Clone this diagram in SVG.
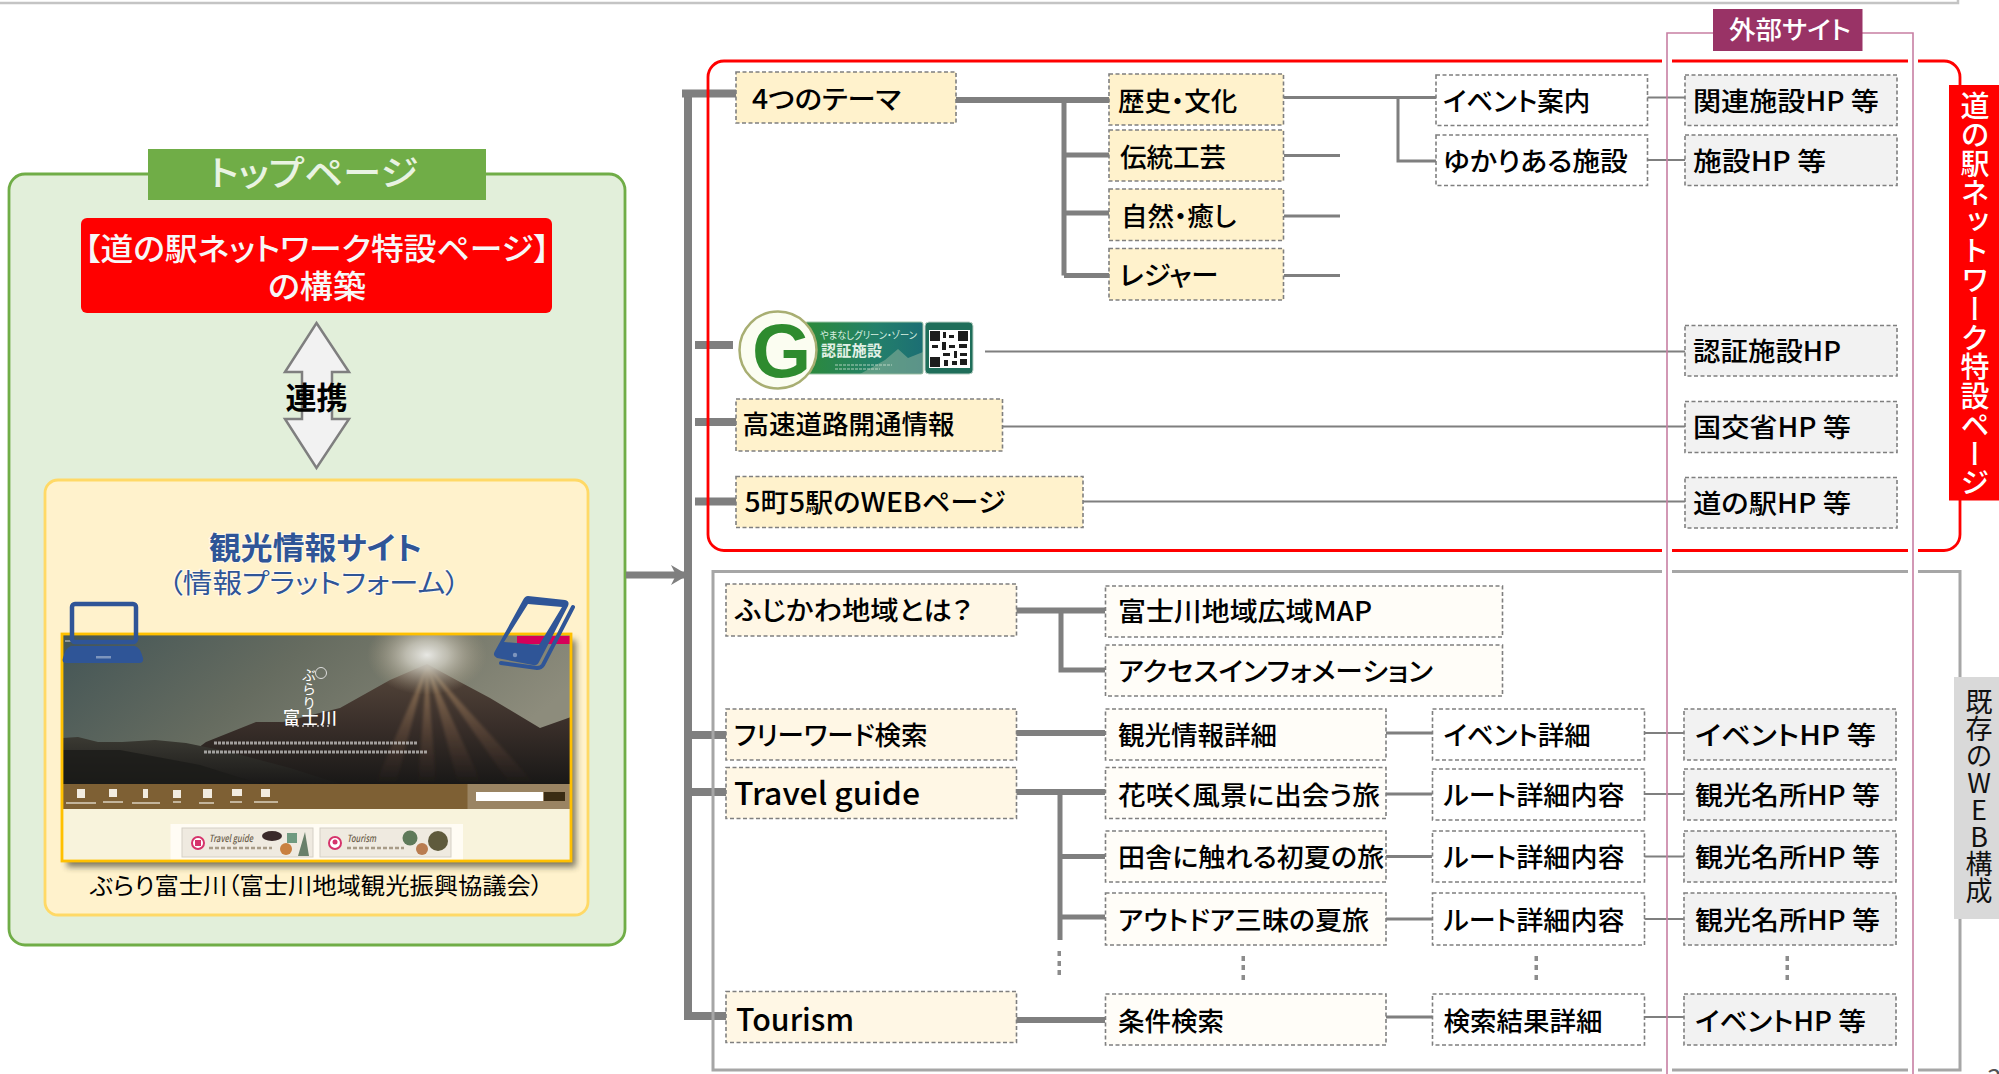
<svg xmlns="http://www.w3.org/2000/svg" width="1999" height="1074" viewBox="0 0 1999 1074">
<style>
text{font-family:"Noto Sans CJK JP","Noto Sans",sans-serif;font-feature-settings:"palt";fill:#000}
.t{font-size:26.5px;font-weight:500}
.l{font-size:31px;font-weight:500}
.box{stroke:#7F7F7F;stroke-width:1.6;stroke-dasharray:4 2.5}
.cream{fill:#FFF2CC}.pale{fill:#FFF7E5}.ivory{fill:#FFFDF8}.white{fill:#FFF}.gray{fill:#F2F2F2}
.c8,.c6,.c5,.c3,.c2{stroke:#7F7F7F;fill:none}
.c8{stroke-width:8}.c6{stroke-width:6}.c5{stroke-width:5}.c3{stroke-width:3}.c2{stroke-width:2}
.dot{fill:#8c8c8c}
</style>
<defs>
<linearGradient id="sky" x1="0" y1="0" x2="1" y2="0.35"><stop offset="0" stop-color="#435556"/><stop offset=".45" stop-color="#666c60"/><stop offset="1" stop-color="#8d8c7c"/></linearGradient>
<linearGradient id="mt" x1="0" y1="0" x2="0" y2="1"><stop offset="0" stop-color="#57483c"/><stop offset=".5" stop-color="#3a2f2a"/><stop offset="1" stop-color="#191817"/></linearGradient>
<linearGradient id="hill" x1="0" y1="0" x2="0" y2="1"><stop offset="0" stop-color="#3b3a33"/><stop offset="1" stop-color="#1a1918"/></linearGradient>
<radialGradient id="sun"><stop offset="0" stop-color="#e8e8e4" stop-opacity="1"/><stop offset=".35" stop-color="#cfccc0" stop-opacity=".8"/><stop offset="1" stop-color="#a89a80" stop-opacity="0"/></radialGradient>
<linearGradient id="ray" x1="0" y1="0" x2="0" y2="1"><stop offset="0" stop-color="#c9a878" stop-opacity=".6"/><stop offset="1" stop-color="#7a4a38" stop-opacity="0"/></linearGradient>
<linearGradient id="band" x1="0" y1="0" x2="1" y2="0"><stop offset="0" stop-color="#2C8A3A"/><stop offset=".6" stop-color="#23806A"/><stop offset="1" stop-color="#1C6E74"/></linearGradient>
<clipPath id="shot"><rect x="62" y="634" width="509" height="227"/></clipPath>
<filter id="shadow" x="-5%" y="-5%" width="115%" height="115%"><feGaussianBlur stdDeviation="3"/></filter>
<filter id="soft" x="-10%" y="-10%" width="120%" height="120%"><feGaussianBlur stdDeviation="1.4"/></filter>
<marker id="head" markerUnits="userSpaceOnUse" markerWidth="20" markerHeight="24" refX="18" refY="11" orient="auto"><path d="M1 1L18 11L1 21L6 11Z" fill="#7F7F7F"/></marker>
</defs>

<rect width="1999" height="1074" fill="#fff"/>
<path id="page-rule" d="M0 3H1958V0" fill="none" stroke="#C4C4C4" stroke-width="2.5"/>

<g id="top-page">
<rect x="9" y="174" width="616" height="771" rx="16" fill="#E2EFDA" stroke="#70AD47" stroke-width="2.8"/>
<rect x="148" y="149" width="338" height="51" fill="#70AD47"/>
<text x="209" y="186" font-size="35" font-weight="500" textLength="209" lengthAdjust="spacingAndGlyphs" style="fill:#E9F3E2">トップページ</text>
</g>

<g id="special-page">
<rect x="81" y="218" width="471" height="95" rx="6" fill="#FF0000"/>
<text x="84" y="260" font-size="31" font-weight="500" textLength="466" lengthAdjust="spacingAndGlyphs" style="fill:#F7F7F7">【道の駅ネットワーク特設ページ】</text>
<text x="268" y="298" font-size="32" font-weight="500" textLength="98" lengthAdjust="spacingAndGlyphs" style="fill:#F7F7F7">の構築</text>
</g>

<g id="link-arrow">
<path d="M316.500 323L349 372H332V419H349L316.500 468L285 419H302V372H285Z" fill="#F2F2F2" stroke="#7F7F7F" stroke-width="2.5"/>
<text x="316.500" y="409" text-anchor="middle" font-size="31" font-weight="700">連携</text>
</g>

<g id="tourism-site">
<rect x="45" y="480" width="543" height="435" rx="13" fill="#FFF2CC" stroke="#FFD966" stroke-width="2.8"/>
<text x="209" y="559" font-size="31" font-weight="700" textLength="213" lengthAdjust="spacingAndGlyphs" style="fill:#2F5597;stroke:#fff;stroke-width:2;stroke-opacity:.6;paint-order:stroke">観光情報サイト</text>
<text x="168" y="593" font-size="27" textLength="292" lengthAdjust="spacingAndGlyphs" style="fill:#2F5597;stroke:#fff;stroke-width:2;stroke-opacity:.6;paint-order:stroke">（情報プラットフォーム）</text>
<rect x="67" y="640" width="509" height="227" fill="#3a3a2a" opacity=".65" filter="url(#shadow)"/>
<g clip-path="url(#shot)">
<rect x="62" y="634" width="509" height="150" fill="url(#sky)"/>
<path d="M206 742L256 722L283 722L340 708L390 680L427 664L460 682L490 698L540 728L571 717V784H150Z" fill="url(#mt)"/>
<path d="M62 738L78 737L98 742L122 742L155 740L186 743L230 752L290 768L340 784H62Z" fill="url(#hill)"/>
<path d="M62 750L120 750L200 765L260 784H62Z" fill="#1c1b19" opacity=".8"/>
<path d="M427 665L375 784H396ZM427 665L418 784H436ZM427 665L458 784H482ZM427 665L510 784H535Z" fill="url(#ray)" filter="url(#soft)"/>
<ellipse cx="427" cy="655" rx="60" ry="40" fill="url(#sun)"/>
<rect x="517" y="636" width="54" height="8" fill="#D6005A"/>
<rect x="65" y="640" width="64" height="2" fill="#d8d8d8" opacity=".5"/>
<g id="shot-logo">
<text x="309" y="668" font-size="14" style="fill:#fff;writing-mode:vertical-rl;font-feature-settings:normal">ぶらり</text>
<circle cx="321" cy="673" r="5.500" fill="none" stroke="#ddd" stroke-width="1"/>
<text x="283" y="724" font-size="17" font-weight="500" textLength="54" style="fill:#fff">富士川</text>
<path d="M292 726H330" stroke="#fff" stroke-width="1.600" stroke-dasharray="2 3" opacity=".7"/>
<path d="M214 743H418M204 752H428" stroke="#fff" stroke-width="3" stroke-dasharray="3 1" opacity=".55"/>
</g>
<rect x="62" y="784" width="509" height="25" fill="#7E6034"/>
<rect x="467.500" y="784" width="104" height="25" fill="#9A8463"/>
<g fill="#f2ece0">
<rect x="77" y="789" width="8" height="9"/><rect x="109" y="789" width="8" height="8"/><rect x="143" y="789" width="5" height="9"/><rect x="173" y="790" width="8" height="8"/><rect x="203" y="789" width="9" height="9"/><rect x="232" y="789" width="10" height="7"/><rect x="261" y="789" width="9" height="8"/>
<g opacity=".6"><rect x="66" y="802" width="30" height="2"/><rect x="103" y="801" width="20" height="2"/><rect x="132" y="802" width="28" height="2"/><rect x="173" y="801" width="8" height="2"/><rect x="199" y="802" width="15" height="2"/><rect x="230" y="801" width="12" height="2"/><rect x="254" y="801" width="24" height="2"/></g>
</g>
<rect x="476" y="792" width="67" height="9" fill="#fff"/>
<rect x="544" y="792" width="21" height="9" fill="#3a2c14"/>
<rect x="62" y="809" width="509" height="52" fill="#F8F3DC"/>
<rect x="170.500" y="824" width="292.500" height="38" fill="#FFFCF4"/>
<g id="shot-travel">
<rect x="182" y="828" width="131" height="29" fill="#EFEAE0" stroke="#d5d0c6"/>
<circle cx="198" cy="843" r="6" fill="#fff" stroke="#D6336C" stroke-width="2"/>
<rect x="195" y="840" width="6" height="6" fill="#D6336C"/>
<text x="209" y="842" font-size="10" font-weight="500" textLength="44" lengthAdjust="spacingAndGlyphs" style="fill:#6b5d4a;font-style:italic">Travel guide</text>
<path d="M209 848H272" stroke="#a89c88" stroke-width="2.500" stroke-dasharray="4 2"/>
<ellipse cx="272" cy="836" rx="10" ry="5" fill="#3a2a2a"/><rect x="287" y="833" width="10" height="10" fill="#6f9a80"/><circle cx="286" cy="849" r="6" fill="#c9803f"/><path d="M305 832L309 856H298Z" fill="#69806a"/>
</g>
<g id="shot-tourism">
<rect x="320" y="828" width="131" height="29" fill="#EFEAE0" stroke="#d5d0c6"/>
<circle cx="335" cy="843" r="6" fill="#fff" stroke="#D6336C" stroke-width="2"/>
<circle cx="335" cy="842" r="2.500" fill="#D6336C"/>
<text x="347" y="842" font-size="10" font-weight="500" textLength="29" lengthAdjust="spacingAndGlyphs" style="fill:#6b5d4a;font-style:italic">Tourism</text>
<path d="M347 848H404" stroke="#a89c88" stroke-width="2.500" stroke-dasharray="4 2"/>
<circle cx="410" cy="838" r="7.500" fill="#5f7a5a"/><circle cx="438" cy="841" r="10" fill="#5f5a3c"/><circle cx="422" cy="849" r="6" fill="#b97c50"/>
</g>
</g>
<rect x="62" y="634" width="509" height="227" fill="none" stroke="#FFC000" stroke-width="2.8"/>
<g id="laptop-icon">
<rect x="72" y="604" width="64" height="38" rx="3" fill="none" stroke="#2F5597" stroke-width="4.500"/>
<path d="M71 646H135Q140 647 143 658Q144 663 139 663H67Q61 663 63 658Q66 647 71 646Z" fill="#2F5597"/>
<rect x="96" y="656" width="15" height="2.500" fill="#7d95bd"/>
</g>
<g id="phone-icon">
<path d="M528 596L565 600Q570 601 568 606L539 662Q537 666 533 665L497 658Q492 656 495 651L523 600Q525 596 528 596ZM528 604L562 607L539 645L504 642Z" fill="#2F5597" fill-rule="evenodd"/>
<path d="M573 607L543 665Q541 668 537 668L501 663" fill="none" stroke="#2F5597" stroke-width="4" stroke-linecap="round"/>
<circle cx="515" cy="655" r="2.200" fill="#7d95bd"/>
</g>
<text x="90" y="894" font-size="23" textLength="453" lengthAdjust="spacingAndGlyphs">ぶらり富士川（富士川地域観光振興協議会）</text>
</g>

<g id="connectors">
<path class="c8" d="M688 93.500V1017"/>
<path class="c8" d="M682 93.500H736M695 345H733M695 422H736M695 501.500H736M688 735H726M688 792H726M684 1016H726"/>
<path class="c6" d="M956 100H1110M1016 610.500H1105M1016 733H1105M1016 792H1105M1016 1020H1105"/>
<path class="c5" d="M1064 100V275.500M1064 155H1110M1064 213H1110M1064 275.500H1110M1061 610.500V670H1105M1060 792V940M1060 856.500H1105M1060 917H1105"/>
<path class="c3" d="M1284 97.500H1436M1398 97.500V161H1436M1284 155.500H1340M1284 216H1340M1284 275.500H1340M1386 733H1432M1386 794H1432M1386 856.500H1432M1386 919H1432M1386 1017H1432"/>
<path class="c2" d="M1647 97.500H1685M1647 160H1685M985 351.500H1685M1003 426.500H1685M1083 501.500H1685M1644 733H1684M1644 794H1684M1644 856.500H1684M1644 919H1684M1644 1017H1684"/>
<path d="M626 575H688" fill="none" stroke="#7F7F7F" stroke-width="7" marker-end="url(#head)"/>
<g id="ellipsis">
<rect class="dot" x="1057.500" y="951" width="3.500" height="5"/><rect class="dot" x="1057.500" y="961" width="3.500" height="5"/><rect class="dot" x="1057.500" y="970" width="3.500" height="5"/>
<rect class="dot" x="1241.500" y="956" width="3.500" height="5"/><rect class="dot" x="1241.500" y="965" width="3.500" height="5"/><rect class="dot" x="1241.500" y="975" width="3.500" height="5"/>
<rect class="dot" x="1534.500" y="956" width="3.500" height="5"/><rect class="dot" x="1534.500" y="965" width="3.500" height="5"/><rect class="dot" x="1534.500" y="975" width="3.500" height="5"/>
<rect class="dot" x="1785.500" y="956" width="3.500" height="5"/><rect class="dot" x="1785.500" y="965" width="3.500" height="5"/><rect class="dot" x="1785.500" y="975" width="3.500" height="5"/>
</g>
</g>

<g id="frames">
<rect x="708" y="61" width="1252" height="489.500" rx="16" fill="none" stroke="#FF0000" stroke-width="2.800"/>
<rect x="713" y="571.500" width="1247" height="498.500" fill="none" stroke="#A6A6A6" stroke-width="3"/>
</g>

<g id="n-theme"><rect class="box cream" x="736" y="72" width="220" height="51"/><text class="t" x="752" y="109" textLength="149" lengthAdjust="spacingAndGlyphs">4つのテーマ</text></g>
<g id="n-history"><rect class="box cream" x="1109" y="74" width="174.500" height="51"/><text class="t" x="1118" y="111">歴史・文化</text></g>
<g id="n-craft"><rect class="box cream" x="1109" y="130" width="174.500" height="51"/><text class="t" x="1120" y="167">伝統工芸</text></g>
<g id="n-nature"><rect class="box cream" x="1109" y="189" width="174.500" height="51.500"/><text class="t" x="1121" y="226">自然・癒し</text></g>
<g id="n-leisure"><rect class="box cream" x="1109" y="248.500" width="174.500" height="51.500"/><text class="t" x="1119.500" y="285" textLength="99" lengthAdjust="spacingAndGlyphs">レジャー</text></g>
<g id="n-event"><rect class="box white" x="1436" y="75" width="211.500" height="50.500"/><text class="t" x="1443" y="111">イベント案内</text></g>
<g id="n-related"><rect class="box white" x="1436" y="135" width="211.500" height="50.500"/><text class="t" x="1443" y="171" textLength="185" lengthAdjust="spacingAndGlyphs">ゆかりある施設</text></g>
<g id="n-ext-related"><rect class="box gray" x="1685" y="75" width="212" height="50.500"/><text class="t" x="1693" y="111" textLength="186" lengthAdjust="spacingAndGlyphs">関連施設HP 等</text></g>
<g id="n-ext-facility"><rect class="box gray" x="1685" y="135" width="212" height="50.500"/><text class="t" x="1693" y="171" textLength="133" lengthAdjust="spacingAndGlyphs">施設HP 等</text></g>

<g id="n-gzone">
<rect x="805" y="322" width="118" height="52" rx="2" fill="url(#band)" stroke="#9fc4a8"/>
<path d="M860 374L885 360L898 349L908 358L923 352V374Z" fill="#8fb39a" opacity=".55"/>
<rect x="925" y="322" width="48" height="52" rx="4" fill="#1F6E5A" stroke="#b9cfc4"/>
<rect x="929" y="330" width="41" height="38" fill="#fff"/>
<g fill="#1c1c1c"><rect x="930" y="331" width="10" height="10"/><rect x="958" y="331" width="10" height="10"/><rect x="930" y="357" width="10" height="10"/><rect x="943" y="332" width="3" height="6"/><rect x="949" y="335" width="5" height="3"/><rect x="932" y="345" width="6" height="3"/><rect x="942" y="342" width="4" height="8"/><rect x="949" y="345" width="6" height="3"/><rect x="959" y="344" width="8" height="4"/><rect x="943" y="353" width="7" height="3"/><rect x="954" y="351" width="3" height="7"/><rect x="960" y="353" width="7" height="3"/><rect x="944" y="360" width="4" height="6"/><rect x="952" y="361" width="5" height="4"/><rect x="960" y="359" width="7" height="6"/></g>
<text x="820" y="339" font-size="10" textLength="97" lengthAdjust="spacingAndGlyphs" style="fill:#d8efe0">やまなしグリーン・ゾーン</text>
<text x="821" y="356" font-size="15" font-weight="700" textLength="61" style="fill:#e3f1e6">認証施設</text>
<path d="M835 365H892M835 369H880" stroke="#cfe3d4" stroke-width="1.200" stroke-dasharray="3 1" opacity=".8"/>
<circle cx="778" cy="350" r="38.500" fill="#FBFDF1" stroke="#A8AE72" stroke-width="2.500"/>
<text x="752" y="377" font-size="76" font-weight="700" style="fill:#2E8B2E;font-family:'Liberation Sans',sans-serif;font-feature-settings:normal">G</text>
</g>
<g id="n-ext-cert"><rect class="box gray" x="1685" y="325.500" width="212" height="50.500"/><text class="t" x="1693" y="361" textLength="148" lengthAdjust="spacingAndGlyphs">認証施設HP</text></g>
<g id="n-road"><rect class="box cream" x="736" y="399" width="266.500" height="52"/><text class="t" x="742.500" y="434">高速道路開通情報</text></g>
<g id="n-ext-mlit"><rect class="box gray" x="1685" y="401.500" width="212" height="51"/><text class="t" x="1693" y="437" textLength="158" lengthAdjust="spacingAndGlyphs">国交省HP 等</text></g>
<g id="n-five"><rect class="box cream" x="736" y="476.500" width="347" height="51"/><text class="t" x="744.500" y="512" textLength="261" lengthAdjust="spacingAndGlyphs">5町5駅のWEBページ</text></g>
<g id="n-ext-station"><rect class="box gray" x="1685" y="477.500" width="212" height="50.500"/><text class="t" x="1693" y="513" textLength="158" lengthAdjust="spacingAndGlyphs">道の駅HP 等</text></g>

<g id="n-fujikawa"><rect class="box pale" x="726" y="584" width="290.500" height="52"/><text class="t" x="735" y="620" textLength="237" lengthAdjust="spacingAndGlyphs">ふじかわ地域とは？</text></g>
<g id="n-map"><rect class="box ivory" x="1105.500" y="586" width="397" height="51"/><text class="t" x="1118" y="621" textLength="254" lengthAdjust="spacingAndGlyphs">富士川地域広域MAP</text></g>
<g id="n-access"><rect class="box ivory" x="1105.500" y="645" width="397" height="51"/><text class="t" x="1118" y="681" textLength="315" lengthAdjust="spacingAndGlyphs">アクセスインフォメーション</text></g>
<g id="n-free"><rect class="box pale" x="726" y="709" width="290.500" height="51"/><text class="t" x="734" y="745">フリーワード検索</text></g>
<g id="n-detail"><rect class="box ivory" x="1105.500" y="709" width="280.500" height="51"/><text class="t" x="1118" y="745">観光情報詳細</text></g>
<g id="n-event2"><rect class="box white" x="1432.500" y="709" width="212" height="51"/><text class="t" x="1443.500" y="745">イベント詳細</text></g>
<g id="n-ext-event"><rect class="box gray" x="1684" y="709" width="212" height="51"/><text class="t" x="1695" y="745" textLength="181" lengthAdjust="spacingAndGlyphs">イベントHP  等</text></g>
<g id="n-travel"><rect class="box pale" x="726" y="767.500" width="290.500" height="51"/><text class="l" x="734" y="805" textLength="186" lengthAdjust="spacingAndGlyphs">Travel guide</text></g>
<g id="n-flower"><rect class="box ivory" x="1105.500" y="767.500" width="280.500" height="51"/><text class="t" x="1118" y="805" textLength="262" lengthAdjust="spacingAndGlyphs">花咲く風景に出会う旅</text></g>
<g id="n-route1"><rect class="box white" x="1432.500" y="769" width="212" height="51"/><text class="t" x="1443.500" y="805" textLength="181" lengthAdjust="spacingAndGlyphs">ルート詳細内容</text></g>
<g id="n-ext-sight1"><rect class="box gray" x="1684" y="769" width="212" height="51"/><text class="t" x="1695" y="805" textLength="185" lengthAdjust="spacingAndGlyphs">観光名所HP 等</text></g>
<g id="n-country"><rect class="box ivory" x="1105.500" y="831" width="280.500" height="51"/><text class="t" x="1118" y="867" textLength="266" lengthAdjust="spacingAndGlyphs">田舎に触れる初夏の旅</text></g>
<g id="n-route2"><rect class="box white" x="1432.500" y="831" width="212" height="51"/><text class="t" x="1443.500" y="867" textLength="181" lengthAdjust="spacingAndGlyphs">ルート詳細内容</text></g>
<g id="n-ext-sight2"><rect class="box gray" x="1684" y="831" width="212" height="51"/><text class="t" x="1695" y="867" textLength="185" lengthAdjust="spacingAndGlyphs">観光名所HP 等</text></g>
<g id="n-outdoor"><rect class="box ivory" x="1105.500" y="893" width="280.500" height="52"/><text class="t" x="1118" y="930" textLength="251" lengthAdjust="spacingAndGlyphs">アウトドア三昧の夏旅</text></g>
<g id="n-route3"><rect class="box white" x="1432.500" y="893" width="212" height="52"/><text class="t" x="1443.500" y="930" textLength="181" lengthAdjust="spacingAndGlyphs">ルート詳細内容</text></g>
<g id="n-ext-sight3"><rect class="box gray" x="1684" y="893" width="212" height="52"/><text class="t" x="1695" y="930" textLength="185" lengthAdjust="spacingAndGlyphs">観光名所HP 等</text></g>
<g id="n-tourism"><rect class="box pale" x="726" y="991.500" width="290.500" height="51"/><text class="l" x="736" y="1031" textLength="118" lengthAdjust="spacingAndGlyphs">Tourism</text></g>
<g id="n-search"><rect class="box ivory" x="1105.500" y="994" width="280.500" height="51"/><text class="t" x="1118" y="1031">条件検索</text></g>
<g id="n-result"><rect class="box white" x="1432.500" y="994" width="212" height="51"/><text class="t" x="1443.500" y="1031">検索結果詳細</text></g>
<g id="n-ext-event2"><rect class="box gray" x="1684" y="994" width="212" height="51"/><text class="t" x="1695" y="1031" textLength="171" lengthAdjust="spacingAndGlyphs">イベントHP 等</text></g>

<g id="external-sites">
<g fill="#fff"><rect x="1662" y="58" width="10" height="6"/><rect x="1908" y="58" width="10" height="6"/><rect x="1662" y="547.500" width="10" height="6"/><rect x="1908" y="547.500" width="10" height="6"/><rect x="1662" y="569" width="10" height="6"/><rect x="1908" y="569" width="10" height="6"/><rect x="1662" y="1067" width="10" height="6"/><rect x="1908" y="1067" width="10" height="6"/></g>
<path d="M1667 1074V33H1913V1074" fill="none" stroke="#C77FA3" stroke-width="1.600"/>
<rect x="1713" y="9" width="149.500" height="42" fill="#993366"/>
<text x="1729" y="39" font-size="25" font-weight="500" textLength="122" lengthAdjust="spacingAndGlyphs" style="fill:#fff">外部サイト</text>
</g>

<g id="tag-special">
<rect x="1949" y="85" width="50" height="415.500" fill="#FF0000"/>
<text x="1975" y="91" font-size="29" font-weight="500" style="fill:#fff;writing-mode:vertical-rl;font-feature-settings:normal">道の駅ネットワーク特設ページ</text>
</g>
<g id="tag-existing">
<rect x="1954" y="677" width="45" height="242" fill="#D9D9D9"/>
<text x="1979" y="688" font-size="27" style="fill:#111;writing-mode:vertical-rl;text-orientation:upright;font-feature-settings:normal">既存のWEB構成</text>
</g>
<text id="page-number" x="1987" y="1088" font-size="26" style="fill:#555">3</text>
</svg>
